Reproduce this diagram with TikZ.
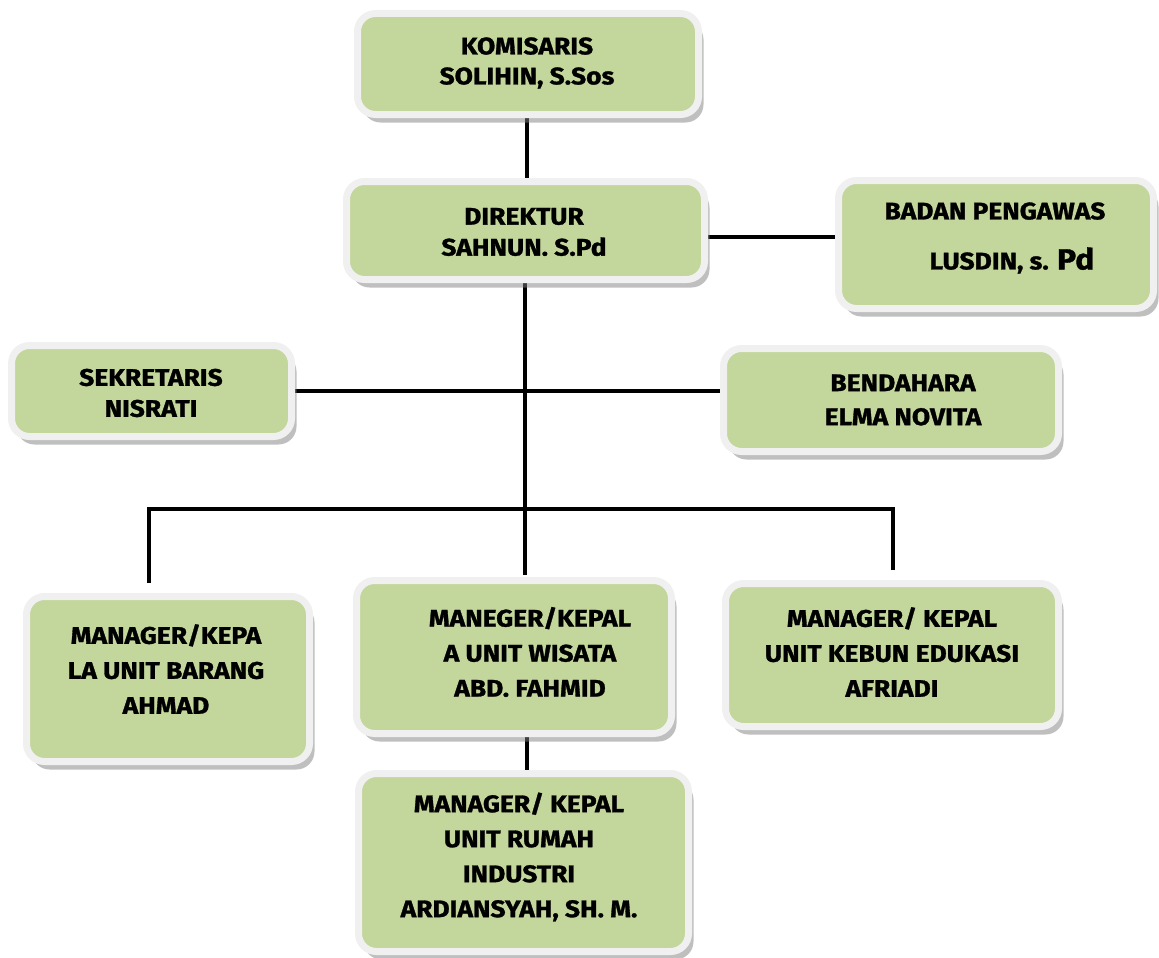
\documentclass[tikz,border=0pt]{standalone}
\usepackage{fontspec}
\setmainfont{Fira Sans}[BoldFeatures={FakeBold=1.2, FakeStretch=1.1}]
\usetikzlibrary{shadows,backgrounds}
\definecolor{boxgreen}{RGB}{195,214,155}
\definecolor{ringgray}{RGB}{240,240,240}
\begin{document}
\begin{tikzpicture}[x=1pt,y=-1pt,
  orgbox/.style={draw=ringgray, line width=7pt, fill=boxgreen, rounded corners=18pt, inner sep=0pt,
    drop shadow={shadow xshift=5pt, shadow yshift=-8pt, opacity=0.5, fill=black!50}},
  orgtext/.style={font=\fontsize{24}{35}\selectfont\bfseries, align=center, inner sep=0pt, text=black},
  link/.style={line width=3.5pt, draw=black}]
\useasboundingbox (0,0) rectangle (1159,958);

% boxes
\node[orgbox, minimum width=341pt, minimum height=101pt] (kom) at (528,64) {};
\node[orgbox, minimum width=358pt, minimum height=98pt]  (dir) at (525.5,230.5) {};
\node[orgbox, minimum width=315pt, minimum height=128pt] (bp)  at (996,244.5) {};
\node[orgbox, minimum width=280pt, minimum height=91pt]  (sek) at (151.5,391) {};
\node[orgbox, minimum width=335pt, minimum height=103pt] (ben) at (891,400) {};
\node[orgbox, minimum width=283pt, minimum height=165pt] (mba) at (168,679) {};
\node[orgbox, minimum width=315pt, minimum height=153pt] (mwi) at (514,657) {};
\node[orgbox, minimum width=333pt, minimum height=143pt] (mke) at (892,655) {};
\node[orgbox, minimum width=330pt, minimum height=178pt] (mru) at (523.5,862.5) {};

% texts
\node[orgtext] (komt) at (527,63) {KOMISARIS\\[-5pt]SOLIHIN, S.Sos};
\node[orgtext] (dirt) at (524,232) {DIREKTUR\\[-4pt]SAHNUN. S.Pd};
\node[orgtext] (bpt)  at (995,238) {BADAN PENGAWAS\\[15pt]\hspace*{34pt}LUSDIN, s. {\fontsize{29}{35}\selectfont Pd}};
\node[orgtext] (sekt) at (151,393) {SEKRETARIS\\[-4pt]NISRATI};
\node[orgtext] (bent) at (903,400) {BENDAHARA\\[-1pt]ELMA NOVITA};
\node[orgtext] (mbat) at (166,669) {MANAGER/KEPA\\LA UNIT BARANG\\AHMAD};
\node[orgtext] (mwit) at (530,652) {MANEGER/KEPAL\\A UNIT WISATA\\ABD. FAHMID};
\node[orgtext] (mket) at (892,652) {MANAGER/ KEPAL\\UNIT KEBUN EDUKASI\\AFRIADI};
\node[orgtext] (mrut) at (519,857) {MANAGER/ KEPAL\\UNIT RUMAH\\INDUSTRI\\ARDIANSYAH, SH. M.};

% connectors
\coordinate (busL) at (149,509);
\coordinate (busR) at (893,509);
\coordinate (trunk) at (525,509);
\coordinate (lowx) at (527,0);
\begin{scope}[on background layer]
  \draw[link] (kom.south -| lowx) -- (dir.north -| lowx);
  \draw[link] ([yshift=-6.5pt]dir.east) -- ([yshift=-6.5pt]dir.east -| bp.west);
  \draw[link] (dir.south -| trunk) -- ([yshift=2pt]mwi.north -| trunk);
  \draw[link] (sek.east) -- (sek.east -| ben.west);
  \draw[link] ([yshift=10pt]mba.north -| busL) -- (busL) -- (busR) -- ([yshift=10pt]mke.north -| busR);
  \draw[link] (mwi.south -| lowx) -- (mru.north -| lowx);
\end{scope}
\end{tikzpicture}
\end{document}
